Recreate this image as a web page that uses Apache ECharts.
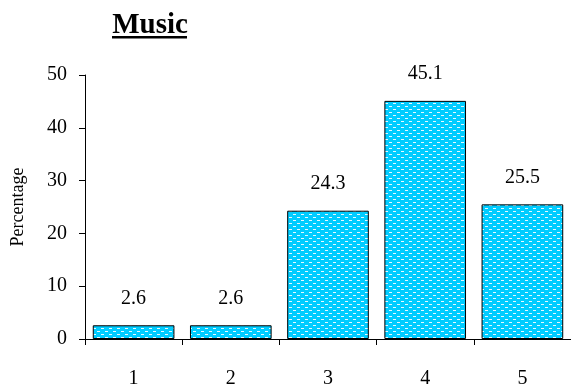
<!DOCTYPE html>
<html><head><meta charset="utf-8">
<script src="https://cdn.jsdelivr.net/npm/echarts@6/dist/echarts.min.js"></script>
<style>html,body{margin:0;padding:0;background:#fff}#c{width:571px;height:391px}</style>
</head><body><div id="c"></div>
<script>
const categories = ['1','2','3','4','5'];
const values = [2.6, 2.6, 24.3, 45.1, 25.5];
const yTicks = [0, 10, 20, 30, 40, 50];

const pc = document.createElement('canvas');
pc.width = 8; pc.height = 6;
const g = pc.getContext('2d');
g.fillStyle = '#00CCFF'; g.fillRect(0,0,8,6);
g.fillStyle = '#E6F8FF';
g.fillRect(1,1,3,1);
g.fillRect(5,4,3,1);

const chart = echarts.init(document.getElementById('c'), null, {renderer:'canvas'});
const font = 'Liberation Serif';
chart.setOption({
  animation:false,
  title:{text:'Music', left:145, top:6, textAlign:'center',
    textStyle:{fontFamily:font, fontSize:29, fontWeight:'bold', color:'#000'}},
  graphic:[{type:'rect', shape:{x:112, y:36, width:75, height:2.5}, style:{fill:'#000'}}],
  grid:{left:85, top:75, width:487, height:264},
  xAxis:{type:'category', data:categories,
    axisLine:{lineStyle:{color:'#000', width:1}},
    axisTick:{show:true, length:6, alignWithLabel:false, lineStyle:{color:'#000'}},
    axisLabel:{fontFamily:font, fontSize:20, color:'#000', margin:30}},
  yAxis:{type:'value', min:yTicks[0], max:yTicks[yTicks.length-1], interval:10,
    name:'Percentage', nameLocation:'middle', nameGap:58, nameRotate:90,
    nameTextStyle:{fontFamily:font, fontSize:18, color:'#000'},
    axisLine:{show:true, lineStyle:{color:'#000'}},
    axisTick:{show:true, length:6, lineStyle:{color:'#000'}},
    splitLine:{show:false},
    axisLabel:{fontFamily:font, fontSize:20, color:'#000', margin:18}},
  series:[{type:'bar', data:values, barCategoryGap:'16%',
    itemStyle:{color:{image:pc, repeat:'repeat'}, borderColor:'#000', borderWidth:1},
    label:{show:true, position:'top', distance:17, fontFamily:font, fontSize:20, color:'#000'}}]
});
</script></body></html>
